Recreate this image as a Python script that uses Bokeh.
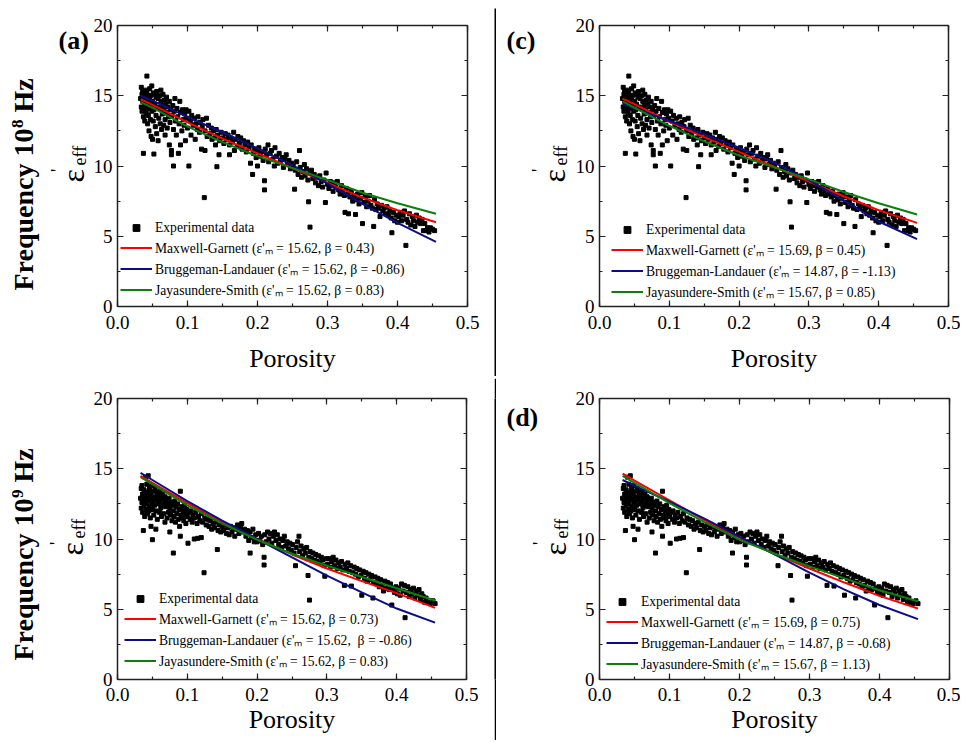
import math
from bokeh.plotting import figure
from bokeh.layouts import row, column, Spacer
from bokeh.core.properties import value
from bokeh.models import (Range1d, LinearAxis, SingleIntervalTicker, PrintfTickFormatter,
                          CustomJSTickFormatter, Legend, LegendItem, ColumnDataSource)
from bokeh.embed import file_html
from bokeh.resources import INLINE

# ---------------- data ----------------
# Experimental data, frequency 10^8 Hz : (porosity, eps'_eff)
PTS_8 = [
    (0.033, 14.8), (0.034, 15.6), (0.034, 14.2), (0.035, 15.1), (0.035, 13.9), (0.036, 14.6), (0.036, 15.3),
    (0.037, 13.5), (0.037, 10.9), (0.038, 14.0), (0.038, 15.0), (0.039, 14.4), (0.039, 13.2), (0.040, 15.4),
    (0.040, 14.8), (0.041, 13.8), (0.041, 14.2), (0.042, 16.4), (0.042, 15.2), (0.043, 14.5), (0.043, 13.0),
    (0.044, 15.0), (0.044, 13.6), (0.045, 14.1), (0.045, 12.5), (0.046, 15.5), (0.046, 14.7), (0.047, 13.3),
    (0.047, 15.0), (0.048, 14.3), (0.048, 12.1), (0.049, 15.7), (0.049, 13.9), (0.050, 14.6), (0.050, 11.9),
    (0.051, 15.2), (0.051, 13.2), (0.052, 14.0), (0.052, 10.85), (0.053, 15.1), (0.053, 14.4), (0.054, 12.8),
    (0.055, 14.9), (0.055, 13.6), (0.056, 15.3), (0.056, 12.3), (0.057, 14.2), (0.058, 14.8), (0.058, 11.8),
    (0.059, 13.4), (0.060, 15.0), (0.060, 14.1), (0.061, 13.0), (0.062, 14.6), (0.062, 15.4), (0.063, 12.6),
    (0.064, 14.3), (0.064, 13.7), (0.065, 15.1), (0.066, 14.0), (0.066, 12.9), (0.067, 14.7), (0.068, 13.3),
    (0.068, 12.2), (0.069, 14.4), (0.070, 13.8), (0.070, 14.9), (0.071, 12.7), (0.072, 14.2), (0.073, 13.5),
    (0.074, 11.5), (0.074, 14.6), (0.075, 13.1), (0.076, 14.0), (0.077, 11.1), (0.077, 10.8), (0.078, 13.6),
    (0.079, 14.3), (0.080, 12.6), (0.080, 10.0), (0.081, 13.9), (0.082, 14.8), (0.083, 13.2), (0.084, 12.2),
    (0.085, 14.1), (0.086, 13.5), (0.087, 10.9), (0.088, 13.0), (0.089, 14.6), (0.090, 11.5), (0.090, 13.8),
    (0.092, 12.5), (0.093, 14.0), (0.094, 13.3), (0.095, 12.9), (0.096, 13.7), (0.097, 11.8), (0.098, 14.0),
    (0.099, 13.4), (0.100, 12.7), (0.102, 10.0), (0.102, 13.9), (0.104, 13.2), (0.105, 12.2), (0.106, 13.6),
    (0.108, 12.9), (0.110, 13.4), (0.111, 11.9), (0.112, 13.0), (0.114, 12.6), (0.115, 13.5), (0.117, 12.4),
    (0.118, 13.1), (0.120, 11.2), (0.121, 12.8), (0.122, 13.3), (0.124, 7.75), (0.125, 11.1), (0.125, 12.5),
    (0.127, 13.4), (0.128, 12.1), (0.130, 12.9), (0.132, 12.3), (0.134, 12.7), (0.135, 11.9), (0.137, 12.5),
    (0.139, 12.0), (0.140, 11.5), (0.141, 12.6), (0.142, 9.95), (0.143, 12.2), (0.145, 10.8), (0.146, 11.8),
    (0.148, 12.4), (0.150, 12.0), (0.152, 11.6), (0.154, 12.3), (0.156, 11.9), (0.158, 12.2), (0.160, 10.8),
    (0.160, 11.5), (0.162, 12.0), (0.164, 11.7), (0.166, 12.4), (0.167, 11.1), (0.169, 11.9), (0.171, 11.4),
    (0.172, 12.1), (0.174, 11.6), (0.176, 12.0), (0.178, 11.2), (0.180, 11.8), (0.182, 11.5), (0.184, 11.0),
    (0.186, 11.7), (0.188, 11.3), (0.190, 10.2), (0.191, 11.5), (0.193, 9.4), (0.194, 10.9), (0.196, 11.2),
    (0.198, 10.6), (0.200, 11.0), (0.200, 10.0), (0.202, 11.3), (0.204, 10.7), (0.206, 11.0), (0.208, 10.4),
    (0.210, 8.95), (0.210, 8.3), (0.211, 11.2), (0.213, 10.8), (0.215, 11.5), (0.216, 10.3), (0.218, 10.9),
    (0.220, 11.1), (0.222, 10.5), (0.224, 10.0), (0.225, 11.3), (0.227, 10.7), (0.229, 10.2), (0.231, 10.9),
    (0.233, 10.4), (0.235, 10.6), (0.237, 9.9), (0.239, 10.5), (0.241, 10.8), (0.243, 10.1), (0.245, 10.4),
    (0.247, 9.8), (0.249, 10.2), (0.251, 10.0), (0.253, 8.35), (0.254, 9.7), (0.256, 10.3), (0.258, 9.4),
    (0.260, 11.1), (0.261, 9.9), (0.263, 9.2), (0.265, 9.6), (0.267, 10.1), (0.268, 9.3), (0.270, 9.8),
    (0.272, 9.0), (0.273, 7.45), (0.275, 5.65), (0.275, 9.5), (0.277, 9.7), (0.279, 9.1), (0.281, 9.4),
    (0.283, 8.8), (0.285, 9.2), (0.287, 8.6), (0.289, 9.3), (0.291, 8.9), (0.293, 8.5), (0.295, 9.0),
    (0.297, 7.4), (0.298, 9.5), (0.300, 8.7), (0.302, 8.4), (0.304, 8.9), (0.306, 8.6), (0.308, 8.2),
    (0.310, 8.8), (0.312, 8.5), (0.314, 8.9), (0.316, 8.3), (0.318, 8.0), (0.320, 8.6), (0.322, 8.2),
    (0.324, 7.9), (0.325, 6.7), (0.327, 8.4), (0.329, 8.0), (0.330, 6.6), (0.332, 7.8), (0.334, 8.2),
    (0.336, 7.5), (0.338, 7.9), (0.340, 6.55), (0.341, 7.6), (0.343, 8.0), (0.345, 7.3), (0.347, 7.7),
    (0.349, 8.1), (0.350, 5.9), (0.352, 7.4), (0.354, 7.8), (0.356, 7.1), (0.358, 7.5), (0.360, 7.9),
    (0.362, 7.2), (0.364, 7.0), (0.366, 5.7), (0.367, 7.6), (0.369, 6.9), (0.371, 7.3), (0.373, 7.0),
    (0.375, 6.4), (0.377, 7.2), (0.379, 6.8), (0.381, 7.0), (0.383, 6.6), (0.385, 7.1), (0.387, 6.5),
    (0.389, 6.8), (0.391, 6.3), (0.392, 5.25), (0.394, 6.7), (0.396, 6.1), (0.398, 6.5), (0.400, 6.0),
    (0.402, 6.4), (0.404, 6.7), (0.406, 6.1), (0.408, 6.5), (0.410, 6.8), (0.412, 4.35), (0.413, 6.2),
    (0.415, 6.0), (0.417, 6.6), (0.419, 5.8), (0.421, 6.4), (0.423, 6.1), (0.425, 5.7), (0.427, 6.5),
    (0.429, 6.0), (0.431, 6.3), (0.433, 5.9), (0.435, 6.2), (0.437, 5.4), (0.439, 5.9), (0.441, 5.4),
    (0.443, 5.6), (0.445, 5.3), (0.447, 5.6), (0.450, 5.5), (0.453, 5.4),
]

# Experimental data, frequency 10^9 Hz
PTS_9 = [
    (0.033, 12.9), (0.034, 13.6), (0.034, 12.2), (0.035, 13.8), (0.035, 12.6), (0.036, 13.2), (0.036, 11.9),
    (0.037, 10.6), (0.037, 12.9), (0.038, 13.5), (0.038, 12.4), (0.039, 13.0), (0.039, 11.6), (0.040, 14.4),
    (0.040, 12.7), (0.041, 13.3), (0.041, 12.1), (0.042, 13.9), (0.042, 12.5), (0.043, 13.1), (0.043, 11.8),
    (0.044, 14.5), (0.044, 12.8), (0.045, 13.4), (0.045, 12.0), (0.046, 13.7), (0.046, 12.3), (0.047, 12.9),
    (0.047, 11.5), (0.048, 13.2), (0.048, 10.9), (0.049, 12.6), (0.049, 13.8), (0.050, 9.95), (0.050, 12.1),
    (0.051, 13.4), (0.051, 12.7), (0.052, 11.7), (0.053, 13.0), (0.053, 12.4), (0.054, 13.6), (0.055, 10.7),
    (0.055, 12.0), (0.056, 12.8), (0.057, 13.3), (0.057, 11.4), (0.058, 12.5), (0.059, 13.1), (0.060, 11.9),
    (0.060, 12.7), (0.061, 13.4), (0.062, 12.2), (0.063, 11.6), (0.063, 12.9), (0.064, 12.4), (0.065, 13.2),
    (0.066, 11.8), (0.067, 12.6), (0.068, 11.2), (0.068, 13.0), (0.069, 12.3), (0.070, 12.8), (0.071, 11.5),
    (0.072, 12.5), (0.073, 11.9), (0.074, 12.9), (0.075, 10.5), (0.075, 12.2), (0.076, 11.7), (0.077, 12.6),
    (0.078, 11.3), (0.079, 12.4), (0.080, 9.0), (0.080, 12.0), (0.081, 11.6), (0.082, 12.7), (0.083, 11.2),
    (0.084, 12.3), (0.085, 11.8), (0.086, 12.5), (0.087, 11.4), (0.088, 12.1), (0.089, 10.9), (0.090, 13.4),
    (0.090, 10.2), (0.091, 11.7), (0.092, 12.3), (0.093, 11.5), (0.094, 12.0), (0.095, 11.3), (0.096, 12.4),
    (0.097, 11.8), (0.098, 11.1), (0.099, 12.1), (0.100, 11.6), (0.101, 9.7), (0.102, 11.9), (0.104, 11.4),
    (0.105, 12.0), (0.107, 11.2), (0.108, 11.7), (0.110, 10.0), (0.110, 11.5), (0.112, 11.9), (0.114, 11.1),
    (0.115, 10.05), (0.116, 11.6), (0.118, 11.3), (0.120, 10.1), (0.120, 11.8), (0.122, 11.2), (0.124, 7.6),
    (0.125, 11.5), (0.127, 11.0), (0.129, 11.4), (0.131, 10.9), (0.133, 11.3), (0.135, 10.7), (0.137, 11.1),
    (0.139, 10.8), (0.141, 11.2), (0.143, 9.25), (0.144, 10.6), (0.146, 11.0), (0.148, 10.5), (0.150, 10.9),
    (0.152, 10.6), (0.154, 11.0), (0.156, 10.4), (0.158, 10.8), (0.160, 10.3), (0.162, 10.9), (0.164, 10.5),
    (0.166, 10.8), (0.168, 10.2), (0.170, 10.7), (0.172, 11.0), (0.174, 10.4), (0.176, 10.8), (0.178, 11.1),
    (0.180, 10.5), (0.182, 10.7), (0.184, 10.2), (0.186, 10.6), (0.188, 9.9), (0.190, 9.0), (0.190, 10.5),
    (0.192, 10.1), (0.194, 10.7), (0.196, 9.8), (0.198, 10.3), (0.200, 9.8), (0.202, 10.4), (0.204, 9.9),
    (0.206, 10.2), (0.208, 9.6), (0.210, 8.7), (0.210, 8.15), (0.211, 10.3), (0.213, 9.8), (0.215, 10.5),
    (0.217, 10.0), (0.219, 10.4), (0.221, 9.7), (0.223, 10.2), (0.225, 10.5), (0.227, 9.9), (0.229, 10.3),
    (0.231, 9.6), (0.233, 10.0), (0.235, 9.4), (0.237, 9.9), (0.239, 10.2), (0.241, 9.5), (0.243, 9.8),
    (0.245, 9.3), (0.247, 9.7), (0.249, 9.2), (0.251, 9.6), (0.253, 9.0), (0.255, 8.1), (0.256, 9.4),
    (0.258, 9.8), (0.260, 10.2), (0.261, 9.1), (0.263, 9.5), (0.265, 8.8), (0.267, 9.3), (0.269, 9.0),
    (0.271, 9.4), (0.273, 7.4), (0.274, 8.7), (0.275, 5.65), (0.276, 9.1), (0.278, 8.6), (0.280, 9.0),
    (0.282, 8.5), (0.284, 8.9), (0.286, 8.4), (0.288, 8.8), (0.290, 8.3), (0.292, 8.7), (0.294, 8.5),
    (0.296, 8.1), (0.297, 7.35), (0.299, 8.6), (0.301, 8.2), (0.303, 8.6), (0.305, 8.0), (0.307, 8.4),
    (0.309, 8.7), (0.311, 8.1), (0.313, 8.5), (0.315, 7.9), (0.317, 8.3), (0.319, 8.0), (0.321, 8.4),
    (0.323, 7.8), (0.325, 6.7), (0.326, 8.2), (0.328, 7.9), (0.330, 8.3), (0.332, 7.7), (0.334, 8.1),
    (0.335, 6.65), (0.337, 7.6), (0.339, 8.0), (0.341, 7.5), (0.343, 7.9), (0.345, 7.3), (0.347, 7.8),
    (0.349, 7.4), (0.350, 6.0), (0.352, 7.7), (0.354, 7.2), (0.356, 7.6), (0.358, 7.0), (0.360, 7.5),
    (0.362, 7.1), (0.364, 7.4), (0.366, 5.8), (0.367, 6.9), (0.369, 7.3), (0.371, 6.8), (0.373, 7.2),
    (0.375, 6.6), (0.377, 7.1), (0.379, 6.7), (0.381, 6.3), (0.383, 7.0), (0.385, 6.5), (0.387, 6.9),
    (0.389, 6.4), (0.391, 6.8), (0.393, 5.3), (0.395, 6.5), (0.397, 6.2), (0.399, 6.6), (0.401, 6.1),
    (0.403, 6.5), (0.405, 6.0), (0.407, 6.8), (0.409, 6.3), (0.411, 6.7), (0.412, 4.4), (0.414, 6.2),
    (0.416, 6.6), (0.418, 5.9), (0.420, 6.4), (0.422, 6.1), (0.424, 6.5), (0.426, 5.8), (0.428, 6.3),
    (0.430, 6.0), (0.432, 6.4), (0.434, 5.7), (0.436, 6.1), (0.438, 5.9), (0.440, 5.5), (0.442, 5.8),
    (0.445, 5.5), (0.448, 5.4), (0.452, 5.6), (0.455, 5.4),
]

# Model curves (read at these porosities)
CURVE_X = [0.033, 0.05, 0.10, 0.15, 0.20, 0.25, 0.30, 0.35, 0.40, 0.455]
MG_A = [14.75, 14.35, 13.10, 11.95, 10.90, 9.85, 8.80, 7.75, 6.85, 6.00]
BL_A = [15.00, 14.65, 13.50, 12.40, 11.25, 10.05, 8.75, 7.30, 5.95, 4.60]
JS_A = [14.55, 14.15, 12.80, 11.70, 10.70, 9.85, 9.00, 8.10, 7.35, 6.60]
MG_C = [14.80, 14.40, 13.15, 12.05, 11.00, 9.95, 8.90, 7.85, 6.85, 5.95]
BL_C = [14.40, 14.10, 13.20, 12.25, 11.30, 10.25, 9.00, 7.55, 6.05, 4.80]
JS_C = [14.60, 14.15, 12.85, 11.75, 10.75, 9.90, 9.05, 8.15, 7.35, 6.55]
MG_B = [14.50, 14.00, 12.55, 11.20, 10.00, 8.90, 7.90, 7.00, 6.15, 5.10]
BL_B = [14.70, 14.20, 12.70, 11.30, 10.00, 8.70, 7.40, 6.20, 5.05, 4.05]
JS_B = [14.40, 13.90, 12.40, 11.10, 9.95, 8.95, 8.10, 7.30, 6.50, 5.62]
MG_D = [14.65, 14.15, 12.75, 11.35, 10.10, 8.95, 7.90, 6.90, 5.95, 5.05]
BL_D = [14.20, 13.80, 12.65, 11.45, 10.15, 8.90, 7.60, 6.40, 5.30, 4.30]
JS_D = [14.50, 14.00, 12.55, 11.20, 9.95, 8.95, 8.05, 7.20, 6.35, 5.57]

LEG_A = ["Maxwell-Garnett (ε'ₘ = 15.62, β = 0.43)", "Bruggeman-Landauer (ε'ₘ = 15.62, β = -0.86)",
         "Jayasundere-Smith (ε'ₘ = 15.62, β = 0.83)"]
LEG_C = ["Maxwell-Garnett (ε'ₘ = 15.69, β = 0.45)", "Bruggeman-Landauer (ε'ₘ = 14.87, β = -1.13)",
         "Jayasundere-Smith (ε'ₘ = 15.67, β = 0.85)"]
LEG_B = ["Maxwell-Garnett (ε'ₘ = 15.62, β = 0.73)", "Bruggeman-Landauer (ε'ₘ = 15.62,  β = -0.86)",
         "Jayasundere-Smith (ε'ₘ = 15.62, β = 0.83)"]
LEG_D = ["Maxwell-Garnett (ε'ₘ = 15.69, β = 0.75)", "Bruggeman-Landauer (ε'ₘ = 14.87, β = -0.68)",
         "Jayasundere-Smith (ε'ₘ = 15.67, β = 1.13)"]

X_RANGE = (0.0, 0.5)
Y_RANGE = (0.0, 20.0)

# ---------------- styling ----------------
SERIF = "Liberation Serif"
RED, BLUE, GREEN = "#ff0000", "#0c0c8a", "#0a800a"
AXIS_COL = "#222222"
HALF = math.pi / 2


def style_ticks(ax):
    ax.major_tick_in, ax.major_tick_out = 6, 0
    ax.minor_tick_in, ax.minor_tick_out = 3, 0
    ax.axis_line_color = AXIS_COL
    ax.axis_line_width = 1.5
    ax.major_tick_line_color = AXIS_COL
    ax.minor_tick_line_color = AXIS_COL
    ax.major_tick_line_width = 1.2
    ax.minor_tick_line_width = 1.2


def add_mirror(p, place, interval):
    ax = LinearAxis(ticker=SingleIntervalTicker(interval=interval, num_minor_ticks=2),
                    formatter=CustomJSTickFormatter(code="return ''"))
    ax.major_label_standoff = 0
    style_ticks(ax)
    p.add_layout(ax, place)


def make_panel(pts, mg, bl, js, legend_labels, w, h, ml, mr, mt, mb,
               xstand, labstand, leg_loc):
    p = figure(width=w, height=h, x_range=Range1d(*X_RANGE), y_range=Range1d(*Y_RANGE),
               toolbar_location=None, output_backend="svg", title=None,
               min_border_left=ml, min_border_right=mr, min_border_top=mt, min_border_bottom=mb,
               background_fill_color="white", border_fill_color="white", outline_line_color=None)
    p.grid.visible = False

    p.xaxis.ticker = SingleIntervalTicker(interval=0.1, num_minor_ticks=2)
    p.yaxis.ticker = SingleIntervalTicker(interval=5, num_minor_ticks=2)
    p.xaxis.formatter = PrintfTickFormatter(format="%.1f")
    p.yaxis.formatter = PrintfTickFormatter(format="%d")
    for ax in (p.xaxis, p.yaxis):
        ax.major_label_text_font = SERIF
        ax.major_label_text_font_size = "19px"
        ax.major_label_text_color = "black"
        style_ticks(ax)
    p.yaxis.major_label_standoff = 5
    p.xaxis.major_label_standoff = xstand
    p.xaxis.axis_label = "Porosity"
    p.xaxis.axis_label_text_font = SERIF
    p.xaxis.axis_label_text_font_size = "26px"
    p.xaxis.axis_label_text_font_style = "normal"
    p.xaxis.axis_label_text_color = "black"
    p.xaxis.axis_label_standoff = labstand
    add_mirror(p, "above", 0.1)
    add_mirror(p, "right", 5)

    src = ColumnDataSource(data=dict(x=[a for a, b in pts], y=[b for a, b in pts]))
    r0 = p.scatter("x", "y", source=src, marker="square", size=4, color="black")
    r1 = p.line(CURVE_X, mg, color=RED, line_width=2)
    r2 = p.line(CURVE_X, bl, color=BLUE, line_width=2)
    r3 = p.line(CURVE_X, js, color=GREEN, line_width=2)

    items = [LegendItem(label="Experimental data", renderers=[r0]),
             LegendItem(label=legend_labels[0], renderers=[r1]),
             LegendItem(label=legend_labels[1], renderers=[r2]),
             LegendItem(label=legend_labels[2], renderers=[r3])]
    leg = Legend(items=items, location=leg_loc, orientation="vertical",
                 label_text_font=SERIF, label_text_font_size="13.6px", label_text_color="black",
                 glyph_width=32, glyph_height=17, label_height=17, label_standoff=3,
                 spacing=2, padding=0, margin=0, border_line_color=None,
                 background_fill_alpha=0)
    p.add_layout(leg)
    return p


def gutter(w, h, mt, mb, texts):
    """Blank strip left of a panel holding the rotated / panel captions.
    Its frame is aligned with the panel frame; y is measured up from the frame bottom."""
    g = figure(width=w, height=h, x_range=Range1d(0, w), y_range=Range1d(0, h - mt - mb),
               toolbar_location=None, output_backend="svg", title=None,
               min_border_left=0, min_border_right=0, min_border_top=mt, min_border_bottom=mb,
               x_axis_location=None, y_axis_location=None, outline_line_color=None,
               background_fill_color="white", border_fill_color="white")
    g.grid.visible = False
    for (x, y, txt, size, bold, angle, align) in texts:
        g.text(x=[x], y=[y], text=[txt], angle=angle, text_font=value(SERIF),
               text_font_size=value(size), text_font_style=value("bold" if bold else "normal"),
               text_color="black", text_align=value(align), text_baseline=value("middle"))
    return g


def eps_label(xc, y0):
    # epsilon, prime and subscript "eff", rotated; xc = centre line of the epsilon
    return [(xc, y0, "ε", "32px", False, HALF, "left"),
            (xc + 7, y0 + 17, "eff", "18px", False, HALF, "left"),
            (xc - 15, y0 + 12, "'", "18px", False, HALF, "center")]


def row_label(xc, y0, sup):
    return [(xc, y0, "Frequency 10", "28px", True, HALF, "left"),
            (xc - 5.5, y0 + 162.5, sup, "17px", True, HALF, "left"),
            (xc, y0 + 178, "Hz", "28px", True, HALF, "left")]


def bar(w, h):
    b = figure(width=w, height=h, toolbar_location=None, output_backend="svg", title=None,
               min_border=0, x_axis_location=None, y_axis_location=None,
               background_fill_color="black", border_fill_color="black", outline_line_color=None)
    b.grid.visible = False
    return b


pa = make_panel(PTS_8, MG_A, BL_A, JS_A, LEG_A, 404, 376, 27, 27, 25, 70, 9, 12, (3, 7))
pc = make_panel(PTS_8, MG_C, BL_C, JS_C, LEG_C, 388, 376, 26, 12, 25, 70, 9, 12, (12, 5))
pb = make_panel(PTS_9, MG_B, BL_B, JS_B, LEG_B, 404, 362, 26, 28, 20, 61, 8, 1, (7, 9))
pd = make_panel(PTS_9, MG_D, BL_D, JS_D, LEG_D, 388, 362, 27, 11, 20, 61, 8, 1, (7, 6))

ga = gutter(90, 376, 25, 70, row_label(22.5, 16, "8") + eps_label(72, 124) +
            [(58, 266, "(a)", "26px", True, 0, "left")])
gc = gutter(76, 376, 25, 70, eps_label(57, 124) +
            [(10, 266, "(c)", "26px", True, 0, "left")])
gb = gutter(90, 362, 20, 61, row_label(22.5, 19, "9") + eps_label(71, 124))
gd = gutter(76, 362, 20, 61, eps_label(58, 124) +
            [(10, 262, "(d)", "26px", True, 0, "left")])

layout = column(
    row(ga, pa, column(Spacer(width=2, height=8), bar(2, 368)), gc, pc),
    row(Spacer(width=20, height=2), bar(940, 2)),
    row(gb, pb, bar(2, 362), gd, pd),
)

open("out.html", "w").write(file_html(layout, INLINE))
